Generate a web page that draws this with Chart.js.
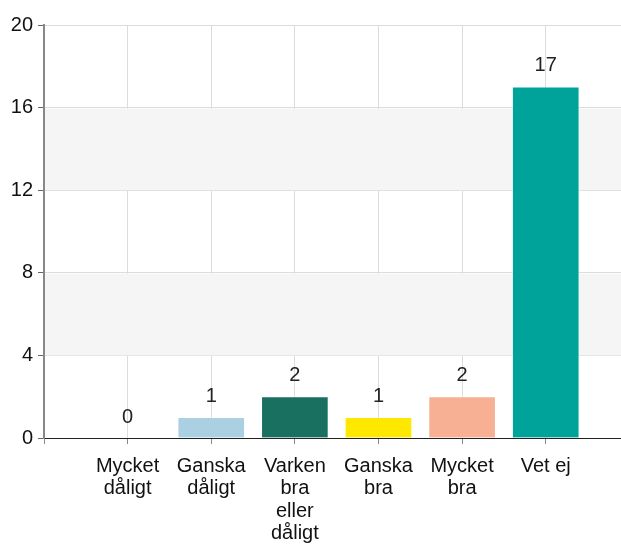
<!DOCTYPE html>
<html>
<head>
<meta charset="utf-8">
<script src="https://cdn.jsdelivr.net/npm/chart.js@4"></script>
<style>
html,body{margin:0;padding:0;background:#fff;}
#wrap{width:621px;height:544px;position:relative;}
</style>
</head>
<body>
<div id="wrap"><canvas id="c" width="621" height="544"></canvas></div>
<script>
const categories = [
  ["Mycket","dåligt"],
  ["Ganska","dåligt"],
  ["Varken","bra","eller","dåligt"],
  ["Ganska","bra"],
  ["Mycket","bra"],
  ["Vet ej"]
];
const values = [0, 1, 2, 1, 2, 17];
const barColors = ["#abd0e2", "#abd0e2", "#1a7060", "#ffe800", "#f7b093", "#00a39a"];
const yTicks = [0, 4, 8, 12, 16, 20];
const bands = [[4, 8], [12, 16]];

const FONT = "'Liberation Sans', Arial, sans-serif";

const bandPlugin = {
  id: 'bands',
  beforeDatasetsDraw(chart) {
    const {ctx, chartArea, scales} = chart;
    ctx.save();
    ctx.fillStyle = '#f5f5f5';
    bands.forEach(([a, b]) => {
      const y1 = scales.y.getPixelForValue(b);
      const y2 = scales.y.getPixelForValue(a);
      ctx.fillRect(chartArea.left + 1, y1 + 1, chartArea.right - chartArea.left, y2 - y1 - 1);
    });
    ctx.restore();
  }
};

const labelPlugin = {
  id: 'vlabels',
  afterDatasetsDraw(chart) {
    const {ctx} = chart;
    const meta = chart.getDatasetMeta(0);
    ctx.save();
    ctx.font = "20px " + FONT;
    ctx.fillStyle = '#222';
    ctx.textAlign = 'center';
    ctx.textBaseline = 'middle';
    meta.data.forEach((bar, i) => {
      ctx.fillText(String(values[i]), bar.x, bar.y - 21);
    });
    ctx.restore();
  }
};

new Chart(document.getElementById('c'), {
  type: 'bar',
  data: {
    datasets: [{
      data: values.map((v, i) => ({x: i + 1, y: v})),
      backgroundColor: barColors,
      borderColor: 'rgba(255,255,255,0.35)',
      borderWidth: 1,
      barThickness: 67
    }]
  },
  options: {
    responsive: false,
    animation: false,
    layout: {padding: {top: 25, right: 0, left: 0, bottom: 0}},
    plugins: {legend: {display: false}, tooltip: {enabled: false}},
    scales: {
      x: {
        type: 'linear',
        min: 0,
        max: 6.9,
        offset: false,
        afterFit(s) { s.height = 106; },
        afterBuildTicks(s) { s.ticks = [0,1,2,3,4,5,6].map(v => ({value: v})); },
        ticks: {
          autoSkip: false,
          maxRotation: 0,
          padding: 11,
          color: '#111',
          font: {family: FONT, size: 20, lineHeight: 1.12},
          callback(v) { return v >= 1 ? categories[v - 1] : ''; }
        },
        grid: {color: '#dcdcdc', tickColor: '#888', tickLength: 6, lineWidth: 1, offset: false},
        border: {color: '#222', width: 1}
      },
      y: {
        min: 0,
        max: 20,
        afterFit(s) { s.width = 44; },
        afterBuildTicks(s) { s.ticks = yTicks.map(v => ({value: v})); },
        ticks: {
          padding: 5,
          color: '#111',
          font: {family: FONT, size: 20}
        },
        grid: {color: '#dcdcdc', tickColor: '#666', tickLength: 6, lineWidth: 1},
        border: {color: '#888', width: 2}
      }
    }
  },
  plugins: [bandPlugin, labelPlugin]
});
</script>
</body>
</html>
